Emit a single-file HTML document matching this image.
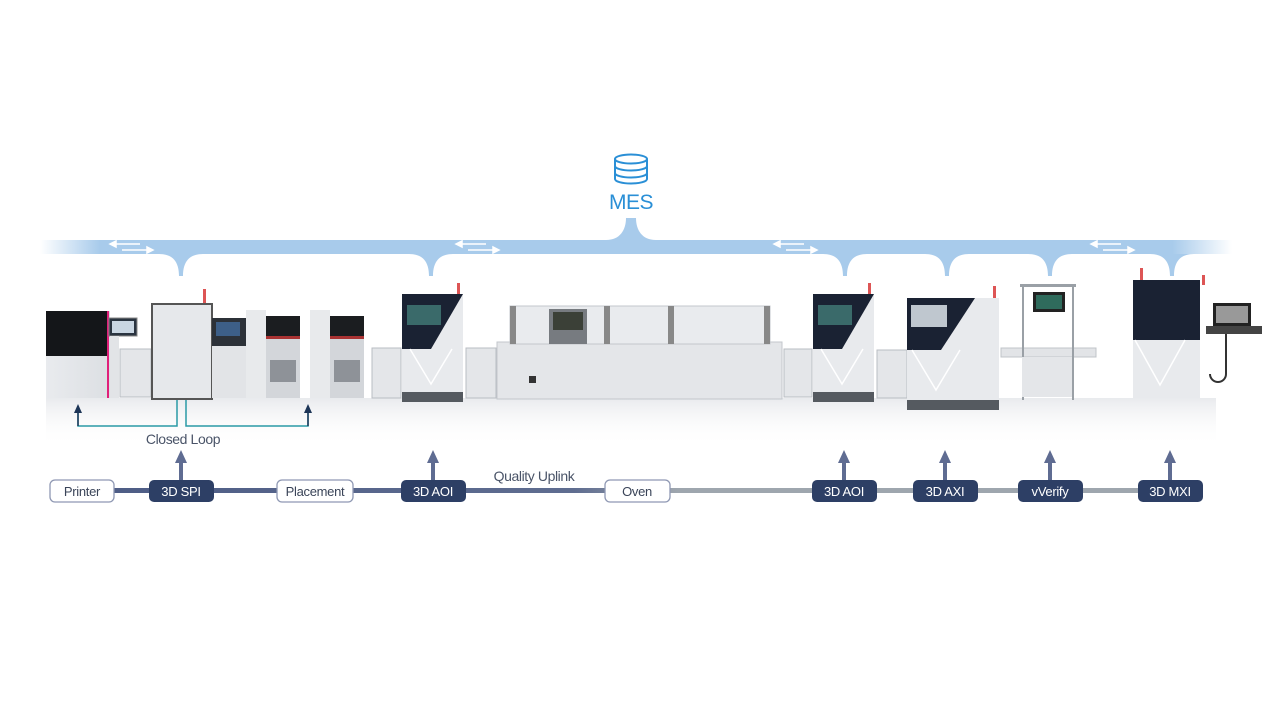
<!DOCTYPE html>
<html><head><meta charset="utf-8"><style>
html,body{margin:0;padding:0;background:#fff;width:1280px;height:714px;overflow:hidden}
svg{display:block}
text{font-family:"Liberation Sans",sans-serif}
</style></head><body>
<svg width="1280" height="714" viewBox="0 0 1280 714" xmlns="http://www.w3.org/2000/svg">
<defs>
<linearGradient id="band" x1="0" x2="1" y1="0" y2="0">
<stop offset="0" stop-color="#a8cbeb" stop-opacity="0"/>
<stop offset="0.05" stop-color="#a8cbeb"/>
<stop offset="0.95" stop-color="#a8cbeb"/>
<stop offset="1" stop-color="#a8cbeb" stop-opacity="0"/>
</linearGradient>
<linearGradient id="refl" x1="0" x2="0" y1="0" y2="1">
<stop offset="0" stop-color="#e3e5e9" stop-opacity="0.8"/>
<stop offset="1" stop-color="#ffffff" stop-opacity="0"/>
</linearGradient>
<linearGradient id="pipe" x1="0" x2="1">
<stop offset="0" stop-color="#4e5d86"/>
<stop offset="0.45" stop-color="#5f6d90"/>
<stop offset="0.55" stop-color="#9ea6ae"/>
<stop offset="1" stop-color="#9ea6ae"/>
</linearGradient>
<linearGradient id="body" x1="0" x2="1">
<stop offset="0" stop-color="#e9ebee"/><stop offset="1" stop-color="#dcdfe3"/>
</linearGradient>
</defs>

<!-- MES -->
<g fill="none" stroke="#2a8fd6" stroke-width="2">
<ellipse cx="631" cy="159" rx="16" ry="4.5"/>
<path d="M615 159 v20 a16 4.5 0 0 0 32 0 v-20"/>
<path d="M615 166 a16 4.5 0 0 0 32 0"/>
<path d="M615 173 a16 4.5 0 0 0 32 0"/>
</g>
<text x="631" y="209" font-size="21" fill="#2a8fd6" text-anchor="middle" letter-spacing="-0.5">MES</text>

<!-- band -->
<rect x="40" y="240" width="1192" height="14" fill="url(#band)"/>
<path d="M626 218 h10 c0 12 6 22 20 22 h-50 c14 0 20-10 20-22z" fill="#a8cbeb"/>
<g fill="#a8cbeb">
<path d="M159 254 c14 0 20 8 20 22 h4 c0-14 6-22 20-22z"/>
<path d="M409 254 c14 0 20 8 20 22 h4 c0-14 6-22 20-22z"/>
<path d="M823 254 c14 0 20 8 20 22 h4 c0-14 6-22 20-22z"/>
<path d="M925 254 c14 0 20 8 20 22 h4 c0-14 6-22 20-22z"/>
<path d="M1028 254 c14 0 20 8 20 22 h4 c0-14 6-22 20-22z"/>
<path d="M1150 254 c14 0 20 8 20 22 h4 c0-14 6-22 20-22z"/>
</g>
<g stroke="#fff" stroke-width="1.5" fill="#fff">
<g id="arr"><line x1="114" y1="244" x2="140" y2="244"/><path d="M110 244 l6 -3 v6z"/><line x1="122" y1="250" x2="148" y2="250"/><path d="M153 250 l-6 -3 v6z"/></g>
<use href="#arr" x="346"/><use href="#arr" x="664"/><use href="#arr" x="981"/>
</g>

<!-- reflections -->
<rect x="46" y="398" width="1170" height="48" fill="url(#refl)"/>

<!-- Printer -->
<rect x="46" y="311" width="64" height="87" fill="url(#body)"/>
<rect x="46" y="311" width="62" height="45" fill="#141619"/>
<rect x="107" y="311" width="2" height="87" fill="#e0207a"/>
<rect x="109" y="318" width="28" height="18" fill="#2a3440" stroke="#888" stroke-width="1"/>
<rect x="112" y="321" width="22" height="12" fill="#c9d6e2"/>
<rect x="110" y="336" width="9" height="62" fill="#e2e4e7"/>
<!-- conveyors -->
<g fill="#e4e6e9" stroke="#b9bdc3" stroke-width="1">
<rect x="120" y="349" width="31" height="48"/>
<rect x="372" y="348" width="29" height="50"/>
<rect x="466" y="348" width="30" height="50"/>
<rect x="784" y="349" width="28" height="48"/>
<rect x="877" y="350" width="30" height="48"/>
</g>
<!-- SPI -->
<rect x="152" y="304" width="60" height="95" fill="#e6e8eb" stroke="#555" stroke-width="2"/>
<rect x="203" y="289" width="3" height="14" fill="#d55"/>
<rect x="212" y="318" width="34" height="28" fill="#2c3138"/>
<rect x="216" y="322" width="24" height="14" fill="#3d5f88"/>
<rect x="212" y="346" width="34" height="52" fill="#e2e4e7"/>
<!-- placements -->
<g>
<rect x="246" y="310" width="20" height="88" fill="#e8eaec"/>
<rect x="266" y="316" width="34" height="20" fill="#1b1d20"/>
<rect x="266" y="336" width="34" height="3" fill="#a33"/>
<rect x="266" y="339" width="34" height="59" fill="#d3d6da"/>
<rect x="270" y="360" width="26" height="22" fill="#8e9298"/>
</g>
<g transform="translate(64,0)">
<rect x="246" y="310" width="20" height="88" fill="#e8eaec"/>
<rect x="266" y="316" width="34" height="20" fill="#1b1d20"/>
<rect x="266" y="336" width="34" height="3" fill="#a33"/>
<rect x="266" y="339" width="34" height="59" fill="#d3d6da"/>
<rect x="270" y="360" width="26" height="22" fill="#8e9298"/>
</g>
<!-- AOI machine template -->
<g id="aoi">
<rect x="402" y="294" width="61" height="108" fill="#e8eaed"/>
<path d="M402 294 h61 l-32 55 h-29z" fill="#1a2233"/>
<rect x="407" y="305" width="34" height="20" fill="#3a6a6a"/>
<path d="M410 349 l21 35 l21 -35" fill="none" stroke="#fff" stroke-width="1.5"/>
<rect x="402" y="392" width="61" height="10" fill="#555a60"/>
<rect x="457" y="283" width="3" height="11" fill="#d55"/>
</g>
<!-- Oven -->
<rect x="497" y="342" width="285" height="57" fill="#e4e6e9" stroke="#c3c7cc"/>
<rect x="510" y="306" width="260" height="38" fill="#e9ebee" stroke="#c3c7cc"/>
<rect x="510" y="306" width="6" height="38" fill="#888"/>
<rect x="604" y="306" width="6" height="38" fill="#888"/>
<rect x="668" y="306" width="6" height="38" fill="#888"/>
<rect x="764" y="306" width="6" height="38" fill="#888"/>
<rect x="549" y="309" width="38" height="35" fill="#777b80"/>
<rect x="553" y="312" width="30" height="18" fill="#3b4037"/>
<rect x="529" y="376" width="7" height="7" fill="#333"/>
<!-- second AOI -->
<use href="#aoi" x="411"/>
<!-- AXI -->
<rect x="907" y="298" width="92" height="112" fill="#e8eaed"/>
<path d="M907 298 h68 l-34 52 h-34z" fill="#1a2233"/>
<rect x="911" y="305" width="36" height="22" fill="#bfc7cf"/>
<path d="M912 350 l24 40 l24 -40" fill="none" stroke="#fff" stroke-width="1.5"/>
<rect x="907" y="400" width="92" height="10" fill="#555a60"/>
<rect x="993" y="286" width="3" height="12" fill="#d55"/>
<!-- vVerify -->
<rect x="1001" y="348" width="95" height="9" fill="#e2e4e7" stroke="#c0c4c9"/>
<rect x="1022" y="284" width="2" height="116" fill="#9aa0a6"/>
<rect x="1072" y="284" width="2" height="116" fill="#9aa0a6"/>
<rect x="1020" y="284" width="56" height="3" fill="#9aa0a6"/>
<rect x="1033" y="292" width="32" height="20" fill="#222"/>
<rect x="1036" y="295" width="26" height="14" fill="#2f6b5c"/>
<rect x="1022" y="357" width="50" height="40" fill="#e4e6e9"/>
<!-- MXI -->
<rect x="1133" y="280" width="67" height="118" fill="#e8eaed"/>
<path d="M1133 280 h67 v60 h-67z" fill="#1a2233"/>
<path d="M1135 340 l25 45 l25 -45" fill="none" stroke="#fff" stroke-width="1.5"/>
<rect x="1140" y="268" width="3" height="12" fill="#d55"/>
<rect x="1202" y="275" width="3" height="10" fill="#d55"/>
<rect x="1213" y="303" width="38" height="23" fill="#222"/>
<rect x="1216" y="306" width="32" height="17" fill="#999"/>
<rect x="1206" y="326" width="56" height="8" fill="#444"/>
<path d="M1226 334 v40 a8 8 0 0 1 -16 0" fill="none" stroke="#333" stroke-width="2"/>

<!-- closed loop -->
<g fill="none" stroke-width="1.5">
<path d="M177 400 v26 h-99 v-20" stroke="#2a9aa6"/>
<path d="M186 400 v26 h122 v-20" stroke="#2a9aa6"/>
<path d="M78 426 v-20" stroke="#1d3557"/>
<path d="M308 426 v-20" stroke="#1d3557"/>
</g>
<path d="M74 413 l4 -9 l4 9z M304 413 l4 -9 l4 9z" fill="#1d3557"/>
<text x="183" y="444" font-size="14" fill="#4a5468" text-anchor="middle" letter-spacing="-0.4">Closed Loop</text>

<!-- pipeline -->
<rect x="110" y="488" width="1032" height="5" fill="url(#pipe)"/>
<g fill="#5f6c92">
<g id="up"><rect x="179" y="460" width="4" height="20"/><path d="M175 463 l6 -13 l6 13z"/></g>
<use href="#up" x="252"/><use href="#up" x="663"/><use href="#up" x="764"/><use href="#up" x="869"/><use href="#up" x="989"/>
</g>
<text x="534" y="481" font-size="14" fill="#4a5468" text-anchor="middle" letter-spacing="-0.4">Quality Uplink</text>
<g font-size="13" text-anchor="middle" letter-spacing="-0.3">
<rect x="50" y="480" width="64" height="22" rx="5" fill="#fff" stroke="#8f98b3" stroke-width="1.3"/>
<text x="82" y="496" fill="#3a4458">Printer</text>
<rect x="277" y="480" width="76" height="22" rx="5" fill="#fff" stroke="#8f98b3" stroke-width="1.3"/>
<text x="315" y="496" fill="#3a4458">Placement</text>
<rect x="605" y="480" width="65" height="22" rx="5" fill="#fff" stroke="#8f98b3" stroke-width="1.3"/>
<text x="637" y="496" fill="#3a4458">Oven</text>
<g fill="#2d3f65">
<rect x="149" y="480" width="65" height="22" rx="5"/>
<rect x="401" y="480" width="65" height="22" rx="5"/>
<rect x="812" y="480" width="65" height="22" rx="5"/>
<rect x="913" y="480" width="65" height="22" rx="5"/>
<rect x="1018" y="480" width="65" height="22" rx="5"/>
<rect x="1138" y="480" width="65" height="22" rx="5"/>
</g>
<g fill="#fff">
<text x="181" y="496">3D SPI</text>
<text x="433" y="496">3D AOI</text>
<text x="844" y="496">3D AOI</text>
<text x="945" y="496">3D AXI</text>
<text x="1050" y="496">vVerify</text>
<text x="1170" y="496">3D MXI</text>
</g>
</g>
</svg>
</body></html>
